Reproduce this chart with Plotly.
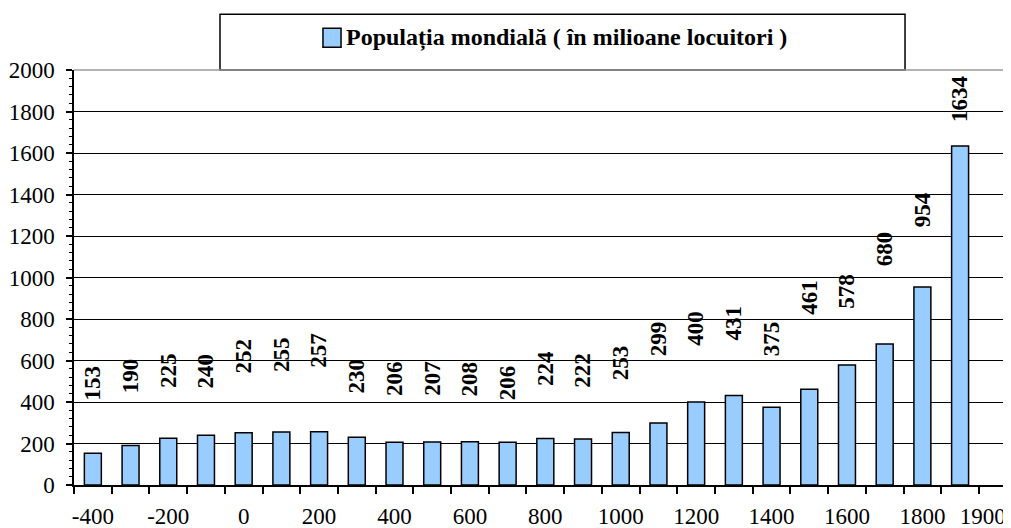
import plotly.graph_objects as go

# ---- data ----
years = [-400, -300, -200, -100, 0, 100, 200, 300, 400, 500, 600, 700,
         800, 900, 1000, 1100, 1200, 1300, 1400, 1500, 1600, 1700, 1800, 1900]
population = [153, 190, 225, 240, 252, 255, 257, 230, 206, 207, 208, 206,
              224, 222, 253, 299, 400, 431, 375, 461, 578, 680, 954, 1634]
series_name = "Populația mondială ( în milioane locuitori )"

x_tick_vals = [-400, -200, 0, 200, 400, 600, 800, 1000, 1200, 1400, 1600, 1800, 1960]
x_tick_text = ["-400", "-200", "0", "200", "400", "600", "800", "1000",
               "1200", "1400", "1600", "1800", "1900"]

# vertical lift of each value label above its bar (data units)
label_lift = [251, 248, 237, 222, 282, 284, 301, 208, 218, 217, 216, 198,
              248, 240, 248, 317, 264, 262, 241, 353, 269, 370, 283, 109]

FONT = "Liberation Serif, Times New Roman, serif"
BAR_FILL = "#99CCFF"

fig = go.Figure()
fig.add_trace(go.Bar(
    x=years, y=population, name=series_name,
    marker=dict(color=BAR_FILL, line=dict(color="black", width=1.5)),
    showlegend=False, hoverinfo="x+y",
))

for xv, v, lift in zip(years, population, label_lift):
    fig.add_annotation(
        x=xv, y=v + lift, text=f"<b>{v}</b>", textangle=-90,
        showarrow=False, xanchor="center", yanchor="bottom",
        font=dict(family=FONT, size=23, color="black"), borderpad=0,
    )

# legend box (manual, centered like the original)
fig.add_shape(type="rect", xref="paper", yref="paper",
              x0=0.1558, x1=0.8869, y0=1.0, y1=1.1341,
              line=dict(color="black", width=1.5), fillcolor="white", layer="above")
fig.add_shape(type="rect", xref="paper", yref="paper",
              x0=0.2657, x1=0.2850, y0=1.0547, y1=1.1004,
              line=dict(color="black", width=1.5), fillcolor=BAR_FILL, layer="above")
fig.add_annotation(xref="paper", yref="paper", x=0.2882, y=1.0775,
                   text=f"<b>{series_name}</b>", showarrow=False,
                   xanchor="left", yanchor="middle",
                   font=dict(family=FONT, size=24, color="black"))
# top border of plot area (grey)
fig.add_shape(type="line", xref="paper", yref="paper", x0=0, x1=1, y0=1, y1=1,
              line=dict(color="#9a9a9a", width=1.5), layer="above")

# the page body has an 8px default margin: compensate in the figure margins
fig.update_layout(
    width=1011, height=528,
    margin=dict(l=66, r=8, t=62, b=51, autoexpand=False),
    paper_bgcolor="white", plot_bgcolor="white",
    bargap=0.55,
    font=dict(family=FONT, size=23, color="black"),
    xaxis=dict(
        range=[-450, 2035], automargin=False,
        tickmode="array", tickvals=x_tick_vals, ticktext=x_tick_text,
        ticks="", showgrid=False, zeroline=False,
        showline=True, linecolor="black", linewidth=1.5,
        tickfont=dict(family=FONT, size=23, color="black"),
        ticklabelstandoff=10,
        minor=dict(tickmode="linear", tick0=-450, dtick=100, ticks="outside",
                   ticklen=7, tickwidth=1.5, tickcolor="black", showgrid=False),
    ),
    yaxis=dict(
        range=[0, 2000], tickmode="linear", tick0=0, dtick=200, automargin=False,
        ticks="outside", ticklen=6, tickwidth=1.5, tickcolor="black",
        showgrid=True, gridcolor="black", gridwidth=1.3, zeroline=False,
        showline=True, linecolor="black", linewidth=1.5,
        tickfont=dict(family=FONT, size=23, color="black"),
        ticklabelstandoff=7,
        minor=dict(tickmode="linear", tick0=0, dtick=40, ticks="outside",
                   ticklen=3, tickwidth=1.2, tickcolor="black", showgrid=False),
    ),
)

fig.write_html("out.html")
